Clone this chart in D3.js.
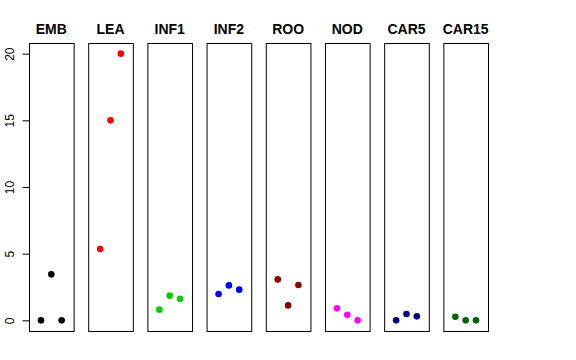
<!DOCTYPE html>
<html>
<head>
<meta charset="utf-8">
<script src="https://cdn.jsdelivr.net/npm/d3@7"></script>
<style>
  body { margin: 0; background: #fff; }
  text { font-family: "Liberation Sans", Arial, sans-serif; }
</style>
</head>
<body>
<div id="chart"></div>
<script>
let width = 576
let height = 360

let stages = ['EMB', 'LEA', 'INF1', 'INF2', 'ROO', 'NOD', 'CAR5', 'CAR15']
let colors = ['#000000', '#ff0000', '#00cd00', '#0000ff', '#8b0000', '#ff00ff', '#000080', '#006400']
let reps = [1, 2, 3]
let values = [
  [0, 3.45, 0],
  [5.35, 15, 20],
  [0.8, 1.85, 1.62],
  [1.97, 2.62, 2.3],
  [3.07, 1.12, 2.65],
  [0.9, 0.42, 0],
  [0, 0.47, 0.3],
  [0.27, 0, 0]
]
let yTicks = [0, 5, 10, 15, 20]

let svg = d3.select('#chart')
  .append('svg')
  .attr('width', width)
  .attr('height', height)

let panelScale = d3.scaleBand()
  .domain(stages)
  .range([29, 488])
  .paddingInner(0.246)
  .paddingOuter(0)

let yScale = d3.scaleLinear()
  .domain([-0.8, 20.8])
  .range([331, 43])

let xScale = d3.scaleLinear()
  .domain([-0.16, 4.16])
  .range([0, panelScale.bandwidth()])

let panels = svg.selectAll('.panel')
  .data(stages)
  .enter()
  .append('g')
  .attr('class', 'panel')
  .attr('transform', d => `translate(${panelScale(d)},0)`)

panels.append('rect')
  .attr('x', 0.5)
  .attr('y', yScale.range()[1] + 0.5)
  .attr('width', panelScale.bandwidth())
  .attr('height', yScale.range()[0] - yScale.range()[1])
  .attr('fill', 'none')
  .attr('stroke', 'black')
  .attr('stroke-width', 1)

panels.append('text')
  .attr('x', panelScale.bandwidth() / 2)
  .attr('y', 34)
  .attr('text-anchor', 'middle')
  .attr('font-size', '14px')
  .attr('font-weight', 'bold')
  .text(d => d)

panels.each(function(d, i) {
  let g = d3.select(this)
  g.selectAll('circle')
    .data(values[i])
    .enter()
    .append('circle')
    .attr('cx', (v, j) => xScale(reps[j]))
    .attr('cy', v => yScale(v))
    .attr('r', 3.3)
    .attr('fill', colors[i])
})

// y axis on first panel only
let yAxis = svg.append('g')
  .attr('transform', `translate(${panelScale(stages[0]) + 0.5},0)`)
  .call(d3.axisLeft(yScale).tickValues(yTicks).tickSize(7).tickPadding(4))

yAxis.select('.domain')
  .attr('d', `M0,${yScale(0)}V${yScale(20)}`)
  .attr('stroke', 'black')

yAxis.selectAll('.tick line').attr('stroke', 'black')

yAxis.selectAll('.tick text')
  .attr('font-size', '12px')
  .attr('font-family', '"Liberation Sans", Arial, sans-serif')
  .attr('fill', 'black')
  .attr('text-anchor', 'middle')
  .attr('dy', null)
  .attr('x', null)
  .attr('transform', 'translate(-16,0) rotate(-90)')
</script>
</body>
</html>
